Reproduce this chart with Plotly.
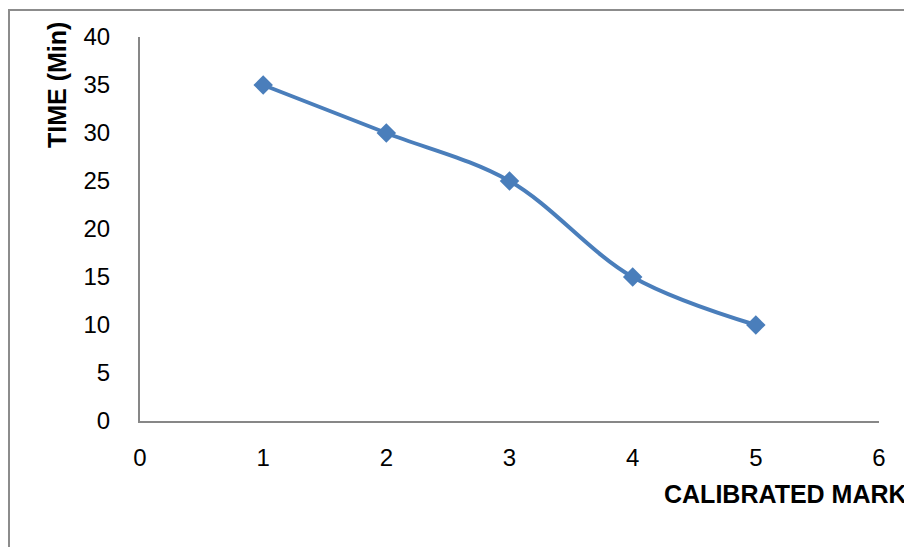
import plotly.graph_objects as go

# Calibration readings
calibrated_mark = [1, 2, 3, 4, 5]
time_min = [35, 30, 25, 15, 10]

x_ticks = [0, 1, 2, 3, 4, 5, 6]
y_ticks = [0, 5, 10, 15, 20, 25, 30, 35, 40]

W, H = 904, 547
L, R, T, B = 140, 25, 37, 126
pw, ph = W - L - R, H - T - B

def px_x(p):
    return (p - L) / pw

def px_y(p):
    return 1 - (p - T) / ph

line_color = "#4A7EBB"
axis_color = "#878787"
font_family = "Liberation Sans, Arial, sans-serif"

fig = go.Figure()
fig.add_trace(go.Scatter(
    x=calibrated_mark,
    y=time_min,
    mode="lines+markers",
    line=dict(color=line_color, width=4, shape="spline", smoothing=1),
    marker=dict(symbol="diamond", size=15, color=line_color),
    showlegend=False,
))

fig.update_layout(
    width=W, height=H,
    margin=dict(l=L, r=R, t=T, b=B),
    paper_bgcolor="white",
    plot_bgcolor="white",
    font=dict(family=font_family, size=24, color="black"),
    xaxis=dict(
        range=[0, 6], tickvals=x_ticks, showgrid=False, zeroline=False,
        showline=True, linecolor=axis_color, linewidth=2,
        ticks="", ticklabelstandoff=14,
    ),
    yaxis=dict(
        range=[0, 40], tickvals=y_ticks, showgrid=False, zeroline=False,
        showline=True, linecolor=axis_color, linewidth=2,
        ticks="", ticklabelstandoff=23,
    ),
    shapes=[dict(
        type="rect", xref="paper", yref="paper",
        x0=px_x(9), x1=px_x(W + 20), y0=px_y(H + 20), y1=px_y(10),
        line=dict(color="#8C8C8C", width=2), fillcolor="rgba(0,0,0,0)",
        layer="below",
    )],
    annotations=[
        dict(text="<b>TIME (Min)</b>", xref="paper", yref="paper",
             x=px_x(57), y=px_y(85), textangle=-90, showarrow=False,
             xanchor="center", yanchor="middle", font=dict(size=25)),
        dict(text="<b>CALIBRATED MARK</b>", xref="paper", yref="paper",
             x=px_x(662), y=px_y(494), showarrow=False,
             xanchor="left", yanchor="middle", font=dict(size=25)),
    ],
)

fig.write_html("out.html")
